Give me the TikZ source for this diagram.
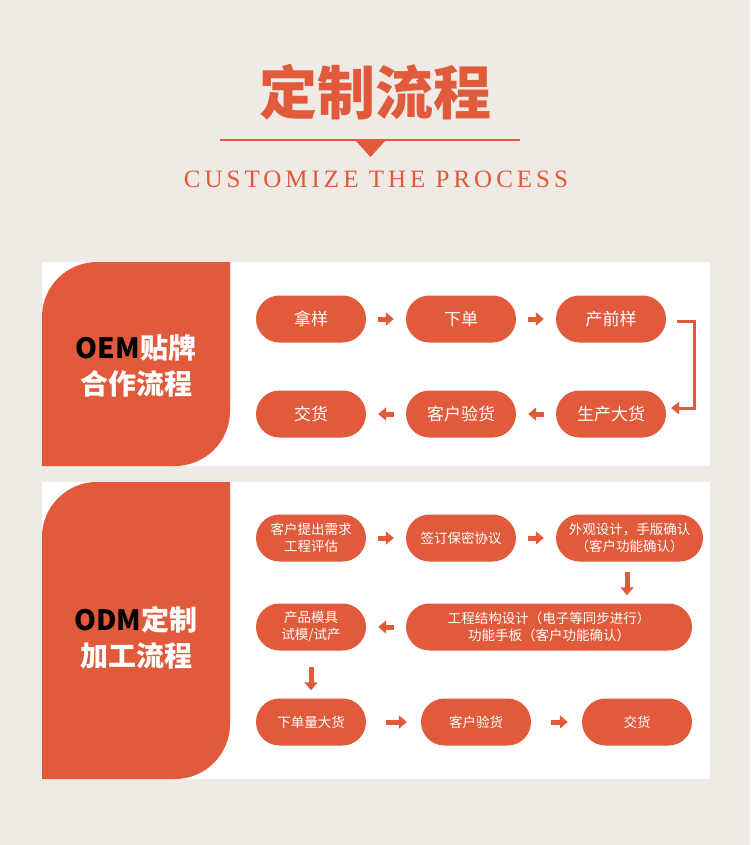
\documentclass[tikz,border=0pt]{standalone}
\usepackage{fontspec}
\setmainfont{Noto Sans CJK SC}
\usetikzlibrary{arrows.meta,positioning}
\definecolor{bgc}{HTML}{EFEAE3}
\definecolor{orng}{HTML}{E05A3B}
\tikzset{
  pill/.style={fill=orng,rounded corners=23.5pt,minimum height=47pt,text=white,font=\fontsize{17}{19}\selectfont,align=center,inner sep=0pt},
  spill/.style={pill,font=\fontsize{13.5}{17}\selectfont},
  blk/.style={orng,line width=5pt,-{Triangle[length=8pt,width=13pt]},shorten >=12pt,shorten <=12pt},
}
\begin{document}
\begin{tikzpicture}[x=1pt,y=-1pt]
\fill[bgc] (0,0) rectangle (750,845);
% title
\node (title) at (375,92) {\fontsize{58}{62}\selectfont\bfseries\color{orng}定制流程};
\draw[orng,line width=1.2pt] (220,140) -- (520,140);
\fill[orng] (356,141) -- (385,141) -- (370.5,157) -- cycle;
\node (sub) at (376,179) {\fontsize{25}{28}\selectfont\color{orng}\fontspec{Liberation Serif}\addfontfeature{LetterSpace=16}CUSTOMIZE THE PROCESS};
% panel 1
\fill[white] (42,262) rectangle (710,466);
\fill[orng] (42,466) [rounded corners=55pt] -- (42,262) [sharp corners] -- (230,262) [rounded corners=55pt] -- (230,466) [sharp corners] -- cycle;
\node[align=center,font=\fontsize{28}{36}\selectfont\bfseries,text=white] (oem) at (136,366) {{\color{black}OEM}贴牌\\合作流程};
\node[pill,minimum width=110pt] (p1) at (311,319) {拿样};
\node[pill,minimum width=110pt] (p2) at (461,319) {下单};
\node[pill,minimum width=110pt] (p3) at (611,319) {产前样};
\node[pill,minimum width=110pt] (p4) at (611,414) {生产大货};
\node[pill,minimum width=110pt] (p5) at (461,414) {客户验货};
\node[pill,minimum width=110pt] (p6) at (311,414) {交货};
\draw[blk] (p1) -- (p2);
\draw[blk] (p2) -- (p3);
\draw[blk] (p4) -- (p5);
\draw[blk] (p5) -- (p6);
\draw[orng,line width=3pt,-{Triangle[length=8pt,width=12pt]}] (677,321) -- (694,321) -- (694,408) -- (671,408);
% panel 2
\fill[white] (42,482) rectangle (710,779);
\fill[orng] (42,779) [rounded corners=55pt] -- (42,482) [sharp corners] -- (230,482) [rounded corners=55pt] -- (230,779) [sharp corners] -- cycle;
\node[align=center,font=\fontsize{28}{36}\selectfont\bfseries,text=white] (odm) at (136,638) {{\color{black}ODM}定制\\加工流程};
\node[spill,minimum width=110pt] (q1) at (311,538) {客户提出需求\\工程评估};
\node[spill,minimum width=110pt] (q2) at (461,538) {签订保密协议};
\node[spill,minimum width=147pt] (q3) at (629.5,538) {外观设计，手版确认\\（客户功能确认）};
\node[spill,minimum width=286pt] (q4) at (549,627) {工程结构设计（电子等同步进行）\\功能手板（客户功能确认）};
\node[spill,minimum width=110pt] (q5) at (311,627) {产品模具\\试模/试产};
\node[spill,minimum width=110pt] (q6) at (311,722) {下单量大货};
\node[spill,minimum width=110pt] (q7) at (476,722) {客户验货};
\node[spill,minimum width=110pt] (q8) at (637,722) {交货};
\draw[blk] (q1) -- (q2);
\draw[blk] (q2) -- (q3);
\draw[blk,shorten <=10pt,shorten >=8pt] (q3.south -| 627,0) -- (q4.north -| 627,0);
\draw[blk] (q4) -- (q5);
\draw[blk,shorten <=16pt,shorten >=8pt] (q5.south) -- (q6.north);
\draw[blk,shorten <=20pt,shorten >=14pt] (q6) -- (q7);
\draw[blk,shorten <=20pt,shorten >=14pt] (q7) -- (q8);
\end{tikzpicture}
\end{document}
